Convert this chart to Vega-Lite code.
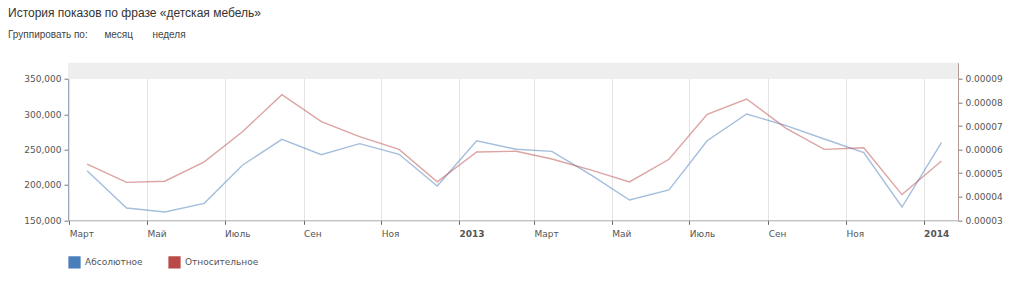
{
  "$schema": "https://vega.github.io/schema/vega-lite/v6.json",
  "width": 890,
  "height": 157.6,
  "autosize": {"type": "none"},
  "padding": {"left": 68, "top": 62.7, "right": 66, "bottom": 65.7},
  "background": "white",
  "title": {
    "text": "История показов по фразе «детская мебель»",
    "subtitle": "Группировать по:\u00a0\u00a0\u00a0\u00a0\u00a0\u00a0месяц\u00a0\u00a0\u00a0\u00a0\u00a0\u00a0\u00a0неделя",
    "anchor": "start",
    "frame": "group",
    "dx": -60,
    "offset": 22,
    "font": "Liberation Sans",
    "fontSize": 12,
    "fontWeight": "normal",
    "color": "#333333",
    "subtitleFont": "Liberation Sans",
    "subtitleFontSize": 10,
    "subtitleColor": "#444444",
    "subtitlePadding": 10
  },
  "data": {
    "values": [
      {"month": "2012-03-15", "abs": 220000, "rel": 0.0000538},
      {"month": "2012-04-15", "abs": 167400, "rel": 0.0000461},
      {"month": "2012-05-15", "abs": 161700, "rel": 0.0000466},
      {"month": "2012-06-15", "abs": 174000, "rel": 0.0000548},
      {"month": "2012-07-15", "abs": 228000, "rel": 0.0000676},
      {"month": "2012-08-15", "abs": 264600, "rel": 0.0000833},
      {"month": "2012-09-15", "abs": 242800, "rel": 0.0000719},
      {"month": "2012-10-15", "abs": 258400, "rel": 0.0000655},
      {"month": "2012-11-15", "abs": 243400, "rel": 0.0000601},
      {"month": "2012-12-15", "abs": 198500, "rel": 0.0000463},
      {"month": "2013-01-15", "abs": 262600, "rel": 0.0000590},
      {"month": "2013-02-15", "abs": 250500, "rel": 0.0000593},
      {"month": "2013-03-15", "abs": 247600, "rel": 0.0000560},
      {"month": "2013-04-15", "abs": 214000, "rel": 0.0000513},
      {"month": "2013-05-15", "abs": 178700, "rel": 0.0000463},
      {"month": "2013-06-15", "abs": 192900, "rel": 0.0000559},
      {"month": "2013-07-15", "abs": 262600, "rel": 0.0000750},
      {"month": "2013-08-15", "abs": 300400, "rel": 0.0000815},
      {"month": "2013-09-15", "abs": 284000, "rel": 0.0000690},
      {"month": "2013-10-15", "abs": 265000, "rel": 0.0000601},
      {"month": "2013-11-15", "abs": 245700, "rel": 0.0000608},
      {"month": "2013-12-15", "abs": 168800, "rel": 0.0000409},
      {"month": "2014-01-15", "abs": 259800, "rel": 0.0000552}
    ]
  },
  "layer": [
    {
      "layer": [
        {
          "data": {"values": [{"band": "scroll"}]},
          "mark": {"type": "rect", "color": "#eeeeee"},
          "encoding": {
            "y": {
              "datum": 350000,
              "type": "quantitative",
              "scale": {"domain": [150000, 373000], "nice": false, "zero": false},
              "axis": {
                "title": null,
                "values": [150000, 200000, 250000, 300000, 350000],
                "labelExpr": "format(datum.value, ',')",
                "labelOverlap": false,
                "grid": false,
                "tickSize": 4,
                "labelPadding": 3,
                "domainColor": "#9aa8b6",
                "tickColor": "#777777"
              }
            },
            "y2": {"datum": 373000}
          }
        },
        {
          "mark": {"type": "line", "strokeWidth": 1.4, "opacity": 0.5},
          "encoding": {
            "x": {
              "field": "month",
              "type": "temporal",
              "scale": {"type": "utc", "domain": [{"year": 2012, "month": 2, "date": 29, "utc": true}, {"year": 2014, "month": 1, "date": 28, "utc": true}]},
              "axis": {
                "title": null,
                "values": [
                  {"year": 2012, "month": 3, "date": 1, "utc": true},
                  {"year": 2012, "month": 5, "date": 1, "utc": true},
                  {"year": 2012, "month": 7, "date": 1, "utc": true},
                  {"year": 2012, "month": 9, "date": 1, "utc": true},
                  {"year": 2012, "month": 11, "date": 1, "utc": true},
                  {"year": 2013, "month": 1, "date": 1, "utc": true},
                  {"year": 2013, "month": 3, "date": 1, "utc": true},
                  {"year": 2013, "month": 5, "date": 1, "utc": true},
                  {"year": 2013, "month": 7, "date": 1, "utc": true},
                  {"year": 2013, "month": 9, "date": 1, "utc": true},
                  {"year": 2013, "month": 11, "date": 1, "utc": true},
                  {"year": 2014, "month": 1, "date": 1, "utc": true}
                ],
                "labelExpr": "utcmonth(datum.value) == 0 ? utcyear(datum.value) + '' : ['Янв','Фев','Март','Апр','Май','Июнь','Июль','Авг','Сен','Окт','Ноя','Дек'][utcmonth(datum.value)]",
                "labelAlign": "left",
                "labelPadding": 5,
                "labelFontWeight": {"condition": {"test": "utcmonth(datum.value) == 0", "value": "bold"}, "value": "normal"},
                "labelColor": "#555555",
                "labelOverlap": false,
                "tickSize": 4,
                "tickColor": "#666666",
                "domainColor": "#aaaaaa",
                "grid": true,
                "gridColor": "#e4e4e4"
              }
            },
            "y": {
              "field": "abs",
              "type": "quantitative",
              "scale": {"domain": [150000, 373000], "nice": false, "zero": false},
              "axis": {
                "title": null,
                "values": [150000, 200000, 250000, 300000, 350000],
                "labelExpr": "format(datum.value, ',')",
                "labelOverlap": false,
                "grid": false,
                "tickSize": 4,
                "labelPadding": 3,
                "domainColor": "#9aa8b6",
                "tickColor": "#777777"
              }
            },
            "color": {"datum": "Абсолютное"}
          }
        }
      ]
    },
    {
      "mark": {"type": "line", "strokeWidth": 1.4, "opacity": 0.5},
      "encoding": {
        "x": {"field": "month", "type": "temporal"},
        "y": {
          "field": "rel",
          "type": "quantitative",
          "scale": {"domain": [0.00003, 0.0000969], "nice": false, "zero": false},
          "axis": {
            "title": null,
            "orient": "right",
            "values": [0.00003, 0.00004, 0.00005, 0.00006, 0.00007, 0.00008, 0.00009],
            "format": ".5f",
            "labelOverlap": false,
            "grid": false,
            "tickSize": 4,
            "labelPadding": 3,
            "domainColor": "#b09a98",
            "tickColor": "#777777"
          }
        },
        "color": {
          "datum": "Относительное",
          "scale": {"domain": ["Абсолютное", "Относительное"], "range": ["#4a7ebb", "#b94a48"]},
          "legend": {
            "orient": "none",
            "legendX": 0,
            "legendY": 193,
            "direction": "horizontal",
            "title": null,
            "symbolType": "square",
            "symbolSize": 150,
            "symbolOpacity": 1,
            "symbolStrokeWidth": 0,
            "labelFont": "DejaVu Sans",
            "labelFontSize": 9,
            "labelColor": "#555555",
            "columnPadding": 25,
            "padding": 0,
            "encode": {"symbols": {"update": {"fill": {"scale": "color", "field": "value"}, "opacity": {"value": 1}}}}
          }
        }
      }
    }
  ],
  "resolve": {"scale": {"y": "independent"}},
  "config": {
    "view": {"stroke": null},
    "axis": {"labelFont": "DejaVu Sans", "labelFontSize": 9, "labelColor": "#555555"}
  }
}
